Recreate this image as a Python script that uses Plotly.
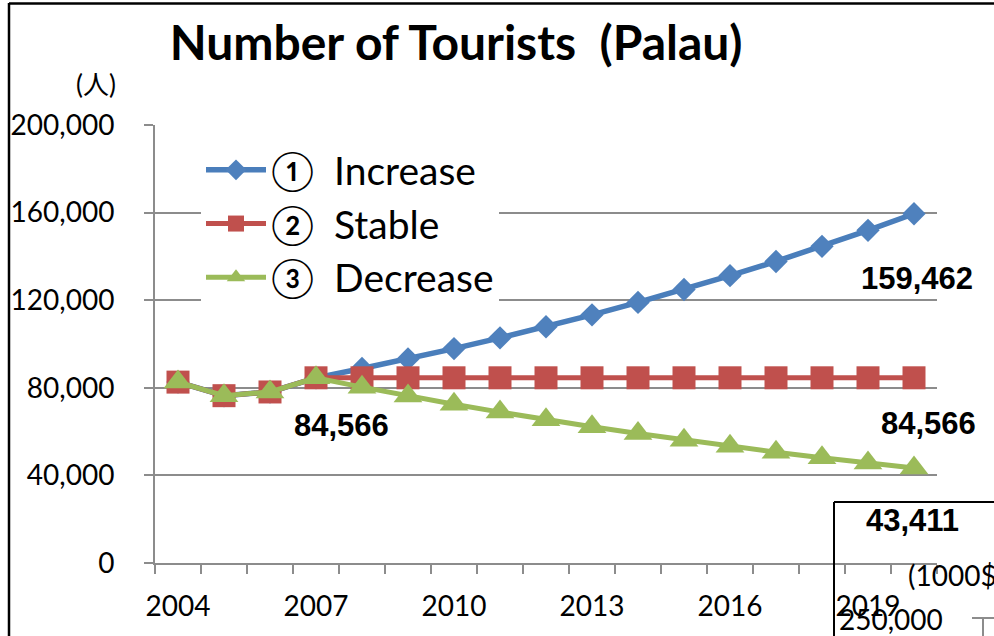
import plotly.graph_objects as go

years = list(range(2004, 2021))
increase = [82600, 76400, 78100, 84566, 88800, 93200, 97900, 102800, 107900,
            113300, 119000, 124900, 131200, 137700, 144600, 151900, 159462]
stable = [82600, 76400, 78100, 84566, 84566, 84566, 84566, 84566, 84566,
          84566, 84566, 84566, 84566, 84566, 84566, 84566, 84566]
decrease = [82600, 76400, 78100, 84566, 80300, 76300, 72500, 68900, 65400,
            62200, 59100, 56100, 53300, 50600, 48100, 45700, 43411]
names = ["①  Increase", "②  Stable", "③  Decrease"]
x_labels = [2004, 2007, 2010, 2013, 2016, 2019]
y_ticks = [0, 40000, 80000, 120000, 160000, 200000]

W, H = 994, 636
L, R, T, B = 155, 937, 125, 563


def px(x):
    return (x - L) / (R - L)


def py(y):
    return (B - y) / (B - T)


GRID = "#8c8c8c"
FONT = "Lato, 'Noto Sans CJK JP', sans-serif"

fig = go.Figure()
fig.add_trace(go.Scatter(x=years, y=increase, name=names[0], mode="lines+markers",
                         line=dict(color="#4A7EBB", width=5.5),
                         marker=dict(symbol="diamond", size=18, color="#4F81BD"),
                         cliponaxis=False))
fig.add_trace(go.Scatter(x=years, y=stable, name=names[1], mode="lines+markers",
                         line=dict(color="#C0504D", width=5),
                         marker=dict(symbol="square", size=23, color="#C0504D"),
                         cliponaxis=False))
fig.add_trace(go.Scatter(x=years, y=decrease, name=names[2], mode="lines+markers",
                         line=dict(color="#9BBB59", width=5),
                         marker=dict(symbol="triangle-up", size=25, color="#9BBB59"),
                         cliponaxis=False))

bounds = [y - 0.5 for y in years] + [years[-1] + 0.5]

fig.update_layout(
    width=W, height=H,
    margin=dict(l=L, r=W - R, t=T, b=H - B),
    paper_bgcolor="white", plot_bgcolor="white",
    font=dict(family=FONT, color="black"),
    title=dict(text="<b>Number of Tourists  (Palau)</b>", font=dict(size=48, family=FONT),
               xref="paper", x=px(456), xanchor="center",
               yref="container", y=1 - 43 / H, yanchor="middle"),
    showlegend=True,
    legend=dict(x=px(201), y=py(138), xanchor="left", yanchor="top",
                bgcolor="white", borderwidth=0, font=dict(size=39, family=FONT),
                itemwidth=60, itemsizing="trace"),
    xaxis=dict(range=[years[0] - 0.5, years[-1] + 0.5], tickmode="array",
               tickvals=x_labels, ticktext=[str(v) for v in x_labels],
               ticks="", showgrid=False, zeroline=False,
               showline=True, linecolor=GRID, linewidth=2,
               tickfont=dict(size=28, family=FONT), ticklabelstandoff=17,
               minor=dict(tickmode="array", tickvals=bounds, ticks="outside",
                          ticklen=9, tickwidth=2, tickcolor=GRID, showgrid=False)),
    yaxis=dict(range=[0, 200000], tickmode="array", tickvals=y_ticks,
               ticktext=[f"{v:,}" for v in y_ticks],
               ticks="outside", ticklen=9, tickwidth=2, tickcolor=GRID,
               showgrid=True, gridcolor=GRID, gridwidth=2, zeroline=False,
               showline=True, linecolor=GRID, linewidth=2,
               tickfont=dict(size=28, family=FONT), ticklabelstandoff=24),
)

LBL = dict(family="'Liberation Sans', Arial, sans-serif", size=31, color="black")
i07 = years.index(2007)
ann = [
    dict(x=years[i07], y=stable[i07], text=f"<b>{stable[i07]:,}</b>", xshift=25, yshift=-48),
    dict(x=years[-1], y=increase[-1], text=f"<b>{increase[-1]:,}</b>", xshift=3, yshift=-65),
    dict(x=years[-1], y=stable[-1], text=f"<b>{stable[-1]:,}</b>", xshift=14, yshift=-46),
    dict(x=years[-1], y=decrease[-1], text=f"<b>{decrease[-1]:,}</b>", xshift=-2, yshift=-53),
]
for a in ann:
    fig.add_annotation(xref="x", yref="y", showarrow=False, font=LBL,
                       xanchor="center", yanchor="middle", **a)

fig.add_annotation(xref="paper", yref="paper", x=px(118), y=py(84), text="(人)",
                   showarrow=False, xanchor="right", yanchor="middle",
                   font=dict(size=26, family=FONT))
fig.add_annotation(xref="paper", yref="paper", x=px(906), y=py(575), text="(1000$)",
                   showarrow=False, xanchor="left", yanchor="middle",
                   font=dict(size=28, family=FONT))
fig.add_annotation(xref="paper", yref="paper", x=px(891), y=py(619), text="250,000",
                   showarrow=False, xanchor="center", yanchor="middle",
                   font=dict(size=28, family=FONT))

# frame pieces of the cropped slide
fig.add_shape(type="line", xref="paper", yref="paper", x0=px(9), x1=px(9), y0=py(3), y1=py(640),
              line=dict(color="black", width=2.5))
fig.add_shape(type="line", xref="paper", yref="paper", x0=px(9), x1=px(1000), y0=py(3.5), y1=py(3.5),
              line=dict(color="black", width=2.5))
fig.add_shape(type="line", xref="paper", yref="paper", x0=px(834), x1=px(834), y0=py(502), y1=py(640),
              line=dict(color="black", width=2))
fig.add_shape(type="line", xref="paper", yref="paper", x0=px(834), x1=px(1000), y0=py(502), y1=py(502),
              line=dict(color="black", width=2))
fig.add_shape(type="line", xref="paper", yref="paper", x0=px(972), x1=px(1000), y0=py(618), y1=py(618),
              line=dict(color=GRID, width=2))
fig.add_shape(type="line", xref="paper", yref="paper", x0=px(983), x1=px(983), y0=py(618), y1=py(640),
              line=dict(color=GRID, width=2))

fig.write_html("out.html", config={"displayModeBar": False},
               post_script="document.body.style.margin='0';document.body.style.overflow='hidden';")
